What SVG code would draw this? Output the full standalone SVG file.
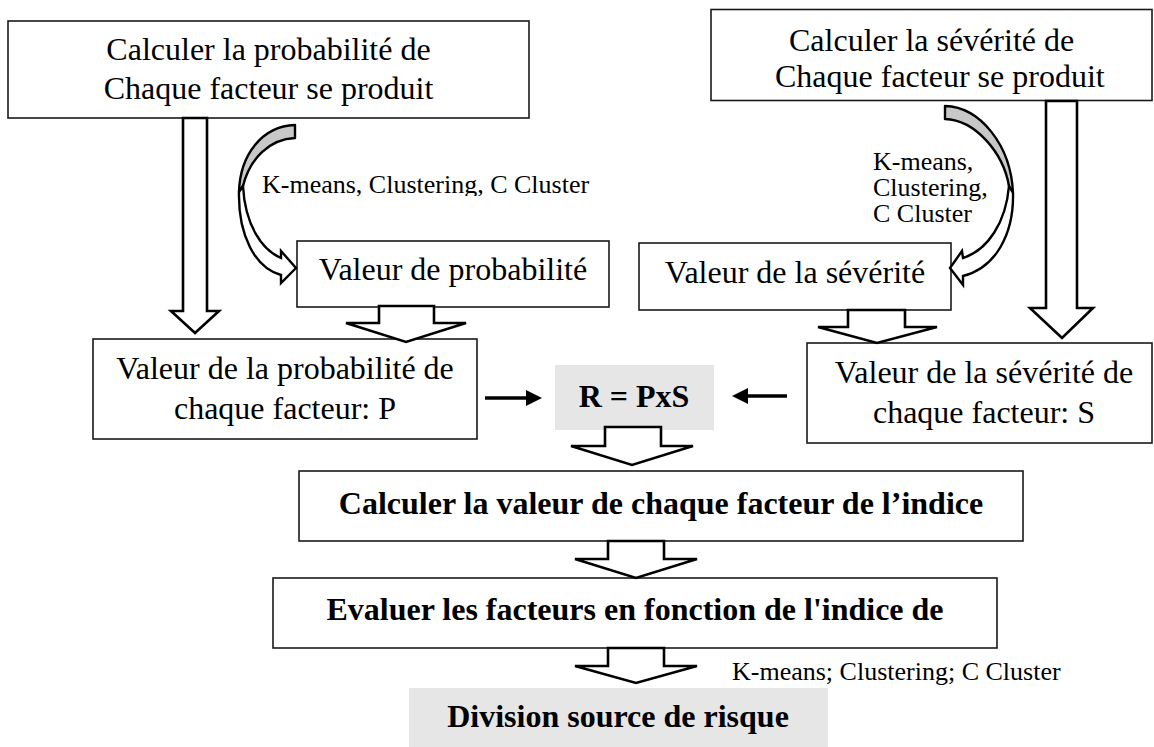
<svg xmlns="http://www.w3.org/2000/svg" width="1154" height="747" viewBox="0 0 1154 747">
  <style>
    .box { fill: #ffffff; stroke: #1a1a1a; stroke-width: 1.6; }
    .shade { fill: #e6e6e6; stroke: none; }
    .t { font-family: "Liberation Serif", "Times New Roman", serif; font-size: 32px; fill: #000; }
    .b { font-weight: bold; }
    .lbl { font-family: "Liberation Serif", "Times New Roman", serif; font-size: 26px; fill: #000; }
    .blk { fill: #ffffff; stroke: #000; stroke-width: 2.6; stroke-linejoin: miter; }
    .back { fill: #c8c8c8; stroke: #000; stroke-width: 2.4; stroke-linejoin: round; }
    .front { fill: #ffffff; stroke: #000; stroke-width: 2.4; stroke-linejoin: miter; }
    .link { stroke: #000; stroke-width: 3.6; fill: none; }
  </style>
  <defs>
    <marker id="head" viewBox="0 0 16 16" refX="1" refY="8" markerWidth="16" markerHeight="16" markerUnits="userSpaceOnUse" orient="auto">
      <path d="M0,0 L16,8 L0,16 Z" fill="#000"/>
    </marker>
    <clipPath id="cutLabel">
      <rect x="250" y="150" width="400" height="46"/>
    </clipPath>
  </defs>

  <!-- nodes -->
  <g id="calc-prob">
    <rect class="box" x="8" y="21" width="521" height="97"/>
    <text class="t" x="268.5" y="60" text-anchor="middle">Calculer la probabilité de</text>
    <text class="t" x="268.5" y="99" text-anchor="middle">Chaque facteur se produit</text>
  </g>

  <g id="calc-sev">
    <rect class="box" x="711" y="9.5" width="441" height="91"/>
    <text class="t" x="789" y="51">Calculer la sévérité de</text>
    <text class="t" x="775" y="87">Chaque facteur se produit</text>
  </g>

  <g id="val-prob">
    <rect class="box" x="297" y="241" width="312" height="66"/>
    <text class="t" x="453" y="280" text-anchor="middle">Valeur de probabilité</text>
  </g>

  <g id="val-sev">
    <rect class="box" x="639" y="243" width="312" height="67"/>
    <text class="t" x="795" y="283" text-anchor="middle">Valeur de la sévérité</text>
  </g>

  <g id="factor-p">
    <rect class="box" x="93" y="339" width="384" height="100"/>
    <text class="t" x="285" y="379" text-anchor="middle">Valeur de la probabilité de</text>
    <text class="t" x="285" y="419" text-anchor="middle">chaque facteur: P</text>
  </g>

  <g id="risk">
    <rect class="shade" x="555" y="365" width="159" height="65"/>
    <text class="t b" x="634" y="407" text-anchor="middle">R = PxS</text>
  </g>

  <g id="factor-s">
    <rect class="box" x="807" y="343" width="345" height="100"/>
    <text class="t" x="984" y="383" text-anchor="middle">Valeur de la sévérité de</text>
    <text class="t" x="984" y="423" text-anchor="middle">chaque facteur: S</text>
  </g>

  <g id="index-value">
    <rect class="box" x="299" y="471" width="724" height="70"/>
    <text class="t b" x="661" y="514" text-anchor="middle">Calculer la valeur de chaque facteur de l’indice</text>
  </g>

  <g id="evaluate">
    <rect class="box" x="273" y="578" width="724" height="70"/>
    <text class="t b" x="635" y="620" text-anchor="middle">Evaluer les facteurs en fonction de l'indice de</text>
  </g>

  <g id="division">
    <rect class="shade" x="409" y="688" width="419" height="59"/>
    <text class="t b" x="618" y="727" text-anchor="middle">Division source de risque</text>
  </g>

  <!-- connectors -->
  <g id="connectors">
    <!-- hollow block arrows -->
    <polygon class="blk" points="183,118 207,118 207,311 219,311 195,333 171,311 183,311"/>
    <polygon class="blk" points="379,306 434,306 434,323 466,323 406,342 346,323 379,323"/>
    <polygon class="blk" points="1046,101 1077,101 1077,308 1093,308 1062,338 1030,308 1046,308"/>
    <polygon class="blk" points="848,310 905,310 905,327 937,327 877,343 818,327 848,327"/>
    <polygon class="blk" points="605,427 661,427 661,446 693,446 632,465 571,446 605,446"/>
    <polygon class="blk" points="608,541 664,541 664,559 697,559 636,578 575,559 608,559"/>
    <polygon class="blk" points="608,648 664,648 664,666 697,666 636,683 575,666 608,666"/>

    <!-- curved arrow, probability side -->
    <path class="back" d="M295,125 C262,126 240,155 239,192 L243,186 C250,158 270,139 295,138 Z"/>
    <path class="front" d="M243,186 C245,225 262,250 281,258 L281,251 L296,268 L281,283 L281,275 C255,268 238,235 239,192 Z"/>

    <!-- curved arrow, severity side -->
    <path class="back" d="M945,106 C980,107 1011,145 1013,193 L1009,186 C1003,152 975,120 945,119 Z"/>
    <path class="front" d="M1009,186 C1006,222 988,250 963,258 L962,251 L950,268 L963,285 L963,276 C995,268 1014,235 1013,193 Z"/>

    <!-- straight arrows into R -->
    <line class="link" x1="485" y1="398" x2="527" y2="398" marker-end="url(#head)"/>
    <line class="link" x1="787" y1="396" x2="747" y2="396" marker-end="url(#head)"/>
  </g>

  <!-- method labels -->
  <text class="lbl" x="262" y="193" clip-path="url(#cutLabel)">K-means, Clustering, C Cluster</text>
  <text class="lbl" x="873" y="170">K-means,</text>
  <text class="lbl" x="873" y="196">Clustering,</text>
  <text class="lbl" x="873" y="222">C Cluster</text>
  <text class="lbl" x="732" y="680">K-means; Clustering; C Cluster</text>
</svg>
